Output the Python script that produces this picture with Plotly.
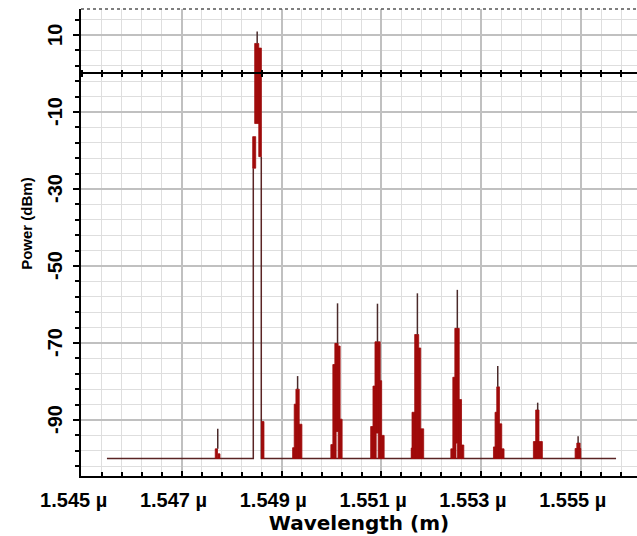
import plotly.graph_objects as go

# ---------------- data (wavelength in nm, power in dBm) ----------------
channel_nm = [1547.72, 1548.51, 1549.32, 1550.12, 1550.92,
              1551.72, 1552.52, 1553.33, 1554.13, 1554.94]
spike_dbm = [-92.3, 10.9, -78.6, -59.7, -59.8, -57.1, -56.2, -76.0, -85.5, -94.2]
noise_floor_dbm = -100.0
span_nm = [1545.5, 1555.7]

# spectral blocks per channel: (start offset pm, end offset pm, top dBm, bottom dBm)
blocks_ch0 = [(-50, -5, -97.5, -100), (5, 45, -98.8, -100)]
blocks_ch1 = [(-50, 32, 7.8, -13.0), (32, 84, 6.6, -21.6), (-90, -30, -16.4, -24.6),
              (86, 136, -90.4, -100)]
blocks_ch2 = [(-100, -68, -97.2, -100), (-68, -34, -85.9, -100), (-34, 32, -82.0, -100),
              (32, 86, -91.1, -100)]
blocks_ch3 = [(-134, -94, -96.4, -100), (-94, -54, -75.6, -100), (-54, -28, -70.1, -100),
              (-28, 12, -70.1, -93.0), (12, 52, -70.8, -100), (52, 92, -89.8, -100)]
blocks_ch4 = [(-136, -90, -91.7, -100), (-90, -50, -81.2, -100), (-50, -26, -69.7, -100),
              (-26, 14, -69.7, -93.4), (14, 54, -69.7, -100), (54, 84, -79.8, -100),
              (84, 134, -94.0, -100)]
blocks_ch5 = [(-124, -104, -97.3, -100), (-108, -54, -88.0, -100), (-54, 26, -67.8, -100),
              (26, 66, -71.3, -100), (66, 126, -92.3, -100)]
blocks_ch6 = [(-130, -90, -97.5, -100), (-90, -50, -78.9, -100), (-50, -26, -66.2, -100),
              (-26, 4, -66.2, -96.0), (4, 38, -66.2, -100), (38, 84, -84.7, -100),
              (84, 130, -96.5, -100)]
blocks_ch7 = [(-86, -34, -97.0, -100), (-54, -20, -88.0, -100), (-20, 34, -81.4, -100),
              (34, 80, -91.0, -100), (60, 126, -97.5, -100)]
blocks_ch8 = [(-86, 94, -95.6, -100), (-40, 26, -87.4, -100)]
blocks_ch9 = [(-60, 54, -97.4, -100), (-26, 40, -96.0, -100)]
channel_blocks = [blocks_ch0, blocks_ch1, blocks_ch2, blocks_ch3, blocks_ch4,
                  blocks_ch5, blocks_ch6, blocks_ch7, blocks_ch8, blocks_ch9]

# thin legs of the pump line: (offset pm from channel 1, top dBm)
pump_legs = [(-78, -24.6), (82, -21.6)]

x_tick_um = [1.545, 1.547, 1.549, 1.551, 1.553, 1.555]
x_tick_text = [f"{v:.3f} µ" + "\u00a0" * 3 for v in x_tick_um]
y_tick_vals = [10, -10, -30, -50, -70, -90]
y_tick_text = ["10", "-10", "-30", "-50", "-70", "-90"]
x_range_um = [1.54498, 1.55612]
y_range = [-104.55, 16.75]

# ---------------- build traces ----------------
pump_c = channel_nm[1]
leg_l = (pump_c + pump_legs[0][0] / 1000.0) / 1000.0
leg_r = (pump_c + pump_legs[1][0] / 1000.0) / 1000.0
# noise floor with a gap under the pump (its two legs close the outline)
ox = [span_nm[0] / 1000.0, leg_l, leg_l, None, leg_r, leg_r, span_nm[1] / 1000.0]
oy = [noise_floor_dbm, noise_floor_dbm, pump_legs[0][1], None,
      pump_legs[1][1], noise_floor_dbm, noise_floor_dbm]

# thin spectral spikes rising above each channel body
sx, sy = [], []
for c, t, blocks in zip(channel_nm, spike_dbm, channel_blocks):
    body_top = max(b[2] for b in blocks)
    sx += [c / 1000.0, c / 1000.0, None]
    sy += [body_top, t, None]

bx, by = [], []
for c, blocks in zip(channel_nm, channel_blocks):
    for s, e, top, bot in blocks:
        x0 = (c + s / 1000.0) / 1000.0
        x1 = (c + e / 1000.0) / 1000.0
        bx += [x0, x0, x1, x1, x0, None]
        by += [bot, top, top, bot, bot, None]

LINE_COL = "#5a2424"
FILL_COL = "#a00b0b"

fig = go.Figure()
fig.add_trace(go.Scatter(x=ox, y=oy, mode="lines", connectgaps=False,
                         line=dict(color=LINE_COL, width=1.5),
                         hoverinfo="skip", showlegend=False))
fig.add_trace(go.Scatter(x=bx, y=by, mode="lines", fill="toself",
                         fillcolor=FILL_COL,
                         line=dict(color=FILL_COL, width=0.8),
                         hoverinfo="skip", showlegend=False))
fig.add_trace(go.Scatter(x=sx, y=sy, mode="lines", connectgaps=False,
                         line=dict(color="#4a2a2a", width=1.5),
                         hoverinfo="skip", showlegend=False))
# invisible helpers so that the zero-line tick axes are rendered
for ax in ["x2", "x3"]:
    fig.add_trace(go.Scatter(x=[ox[0]], y=[oy[0]], xaxis=ax, yaxis="y", mode="markers",
                             marker=dict(opacity=0), hoverinfo="skip", showlegend=False))

tick_font = dict(family="Liberation Sans", size=20, color="black", weight="bold")

zero_pos = (0 - y_range[0]) / (y_range[1] - y_range[0])

annotations = []
for v, t in zip(y_tick_vals, y_tick_text):
    annotations.append(dict(x=0, xref="paper", y=v, yref="y", text=t, showarrow=False,
                            textangle=-90, xanchor="center", yanchor="middle",
                            xshift=-26, font=tick_font))
annotations.append(dict(x=0, xref="paper", y=0.54, yref="paper", text="Power (dBm)",
                        showarrow=False, textangle=-90, xanchor="center",
                        yanchor="middle", xshift=-54,
                        font=dict(family="Liberation Sans", size=15, color="black",
                                  weight="bold")))

fig.update_layout(
    width=637, height=536,
    margin=dict(l=81, r=0, t=9, b=60),
    paper_bgcolor="white", plot_bgcolor="white",
    xaxis=dict(
        range=x_range_um, tickmode="array", tickvals=x_tick_um, ticktext=x_tick_text,
        tickfont=tick_font, ticks="inside", ticklen=5, tickcolor="black", tickwidth=1.5,
        ticklabelstandoff=5,
        showgrid=True, gridcolor="#c0c0c0", gridwidth=1.5,
        minor=dict(tickmode="linear", tick0=1.545, dtick=0.0004, showgrid=True,
                   gridcolor="#dedede", gridwidth=1, ticks="inside", ticklen=4,
                   tickcolor="black"),
        showline=True, linecolor="black", linewidth=2, zeroline=False,
        title=dict(text="Wavelength (m)", standoff=0,
                   font=dict(family="DejaVu Sans", size=20, color="black", weight="bold")),
    ),
    yaxis=dict(
        range=y_range, tickmode="linear", tick0=y_tick_vals[0], dtick=20,
        showticklabels=False,
        ticks="outside", ticklen=6, tickcolor="black", tickwidth=1.5,
        showgrid=True, gridcolor="#c0c0c0", gridwidth=1.5,
        minor=dict(tickmode="linear", tick0=y_tick_vals[0], dtick=4, showgrid=True,
                   gridcolor="#dedede", gridwidth=1, ticks="outside", ticklen=4,
                   tickcolor="black"),
        showline=True, linecolor="black", linewidth=2, zeroline=False,
    ),
    xaxis2=dict(
        overlaying="x", anchor="free", position=zero_pos, side="bottom",
        range=x_range_um, tickmode="linear", tick0=1.545, dtick=0.0004,
        ticks="outside", ticklen=3, tickcolor="black", tickwidth=2,
        showticklabels=False, showgrid=False, zeroline=False,
        showline=True, linecolor="black", linewidth=2,
    ),
    xaxis3=dict(
        overlaying="x", anchor="free", position=zero_pos, side="top",
        range=x_range_um, tickmode="linear", tick0=1.545, dtick=0.0004,
        ticks="outside", ticklen=3, tickcolor="black", tickwidth=2,
        showticklabels=False, showgrid=False, zeroline=False, showline=False,
    ),
    annotations=annotations,
    shapes=[dict(type="line", xref="paper", yref="paper", x0=0, x1=1, y0=1, y1=1,
                 line=dict(color="#555555", width=1.5, dash="dot"))],
)

fig.write_html("out.html")
